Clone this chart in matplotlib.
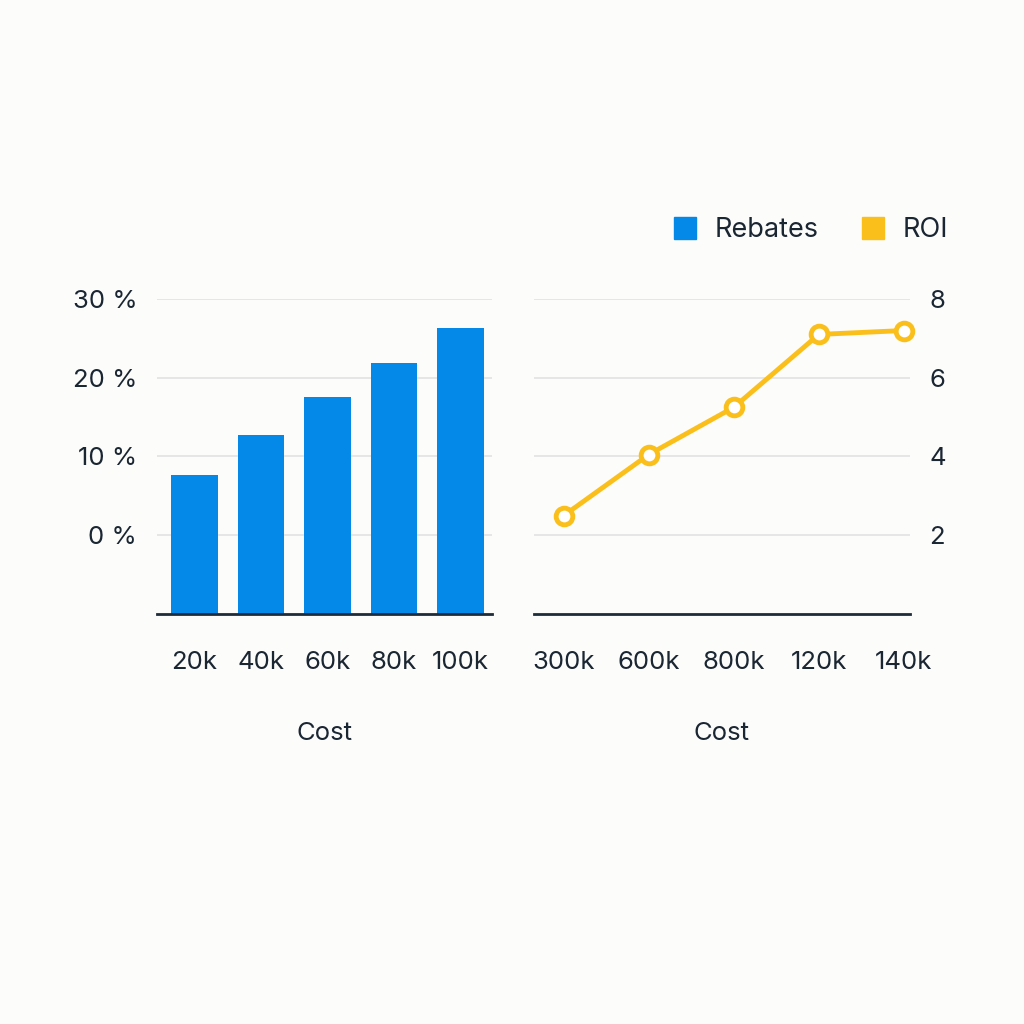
import matplotlib.pyplot as plt
from matplotlib.lines import Line2D

plt.rcParams['font.family'] = ['Inter', 'DejaVu Sans']

# Rebates (left panel)
rebate_costs = ['20k', '40k', '60k', '80k', '100k']
rebate_pct = [7.7, 12.7, 17.5, 21.9, 26.3]

# ROI (right panel)
roi_costs = ['300k', '600k', '800k', '120k', '140k']
roi_values = [2.5, 4.05, 5.25, 7.1, 7.2]

left_ticks = [0, 10, 20, 30]
right_ticks = [2, 4, 6, 8]

bg = '#fcfcfa'
text_col = '#1b2633'
blue = '#0589e8'
gold = '#fbbf1c'
grid_col = '#e2e2e2'
fs = 18.5

fig = plt.figure(figsize=(10.24, 10.24), dpi=100, facecolor=bg)
ax1 = fig.add_axes([0.153, 0.4004, 0.327, 0.3076], facecolor=bg)
ax2 = fig.add_axes([0.5215, 0.4004, 0.367, 0.3076], facecolor=bg)

# left: bars drawn up from the -10 baseline
base = -10
x1 = range(len(rebate_costs))
ax1.bar(x1, [v - base for v in rebate_pct], bottom=base, width=0.7, color=blue, zorder=3)
ax1.set_ylim(base, 30)
ax1.set_xlim(-0.57, 4.47)
ax1.set_yticks(left_ticks)
ax1.set_yticklabels([f'{t} %' for t in left_ticks])
ax1.set_xticks(list(x1))
ax1.set_xticklabels(rebate_costs)
ax1.set_xlabel('Cost', fontsize=fs, color=text_col, labelpad=34)

# right: ROI line
x2 = range(len(roi_costs))
ax2.plot(x2, roi_values, color=gold, lw=3.5, marker='o', ms=12, mfc='white',
         mec=gold, mew=3.5, zorder=3, clip_on=False)
ax2.set_ylim(0, 8)
ax2.set_xlim(-0.35, 4.07)
ax2.set_yticks(right_ticks)
ax2.set_xticks(list(x2))
ax2.set_xticklabels(roi_costs)
ax2.yaxis.tick_right()
ax2.set_xlabel('Cost', fontsize=fs, color=text_col, labelpad=34)

for ax in (ax1, ax2):
    for s in ('top', 'left', 'right'):
        ax.spines[s].set_visible(False)
    ax.spines['bottom'].set_color('#1d2b3a')
    ax.spines['bottom'].set_linewidth(2)
    ax.spines['bottom'].set_zorder(4)
    ax.grid(axis='y', color=grid_col, lw=1.2, zorder=0)
    ax.tick_params(length=0, labelsize=fs, colors=text_col)
    ax.tick_params(axis='x', pad=27)
    ax.tick_params(axis='y', pad=14)

handles = [
    Line2D([], [], ls='none', marker='s', ms=16, color=blue, label='Rebates'),
    Line2D([], [], ls='none', marker='s', ms=16, color=gold, label='ROI'),
]
fig.legend(handles=handles, loc='center right', bbox_to_anchor=(0.95, 0.775), ncol=2,
           frameon=False, fontsize=19.5, handletextpad=0.1, columnspacing=1.0,
           labelcolor=text_col)

fig.savefig('out.png', dpi=100, facecolor=bg)
